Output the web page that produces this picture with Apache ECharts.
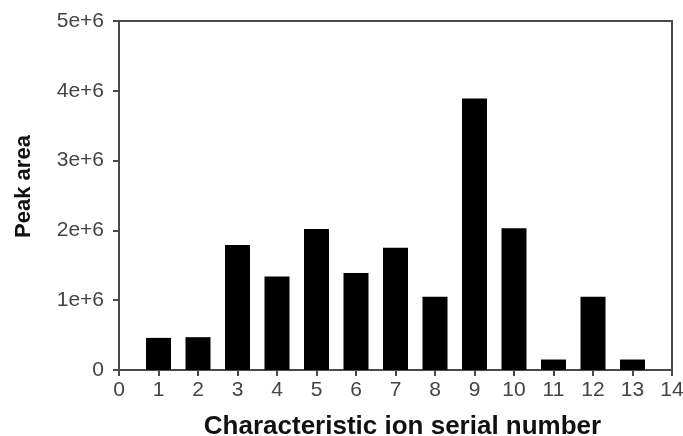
<!DOCTYPE html>
<html><head><meta charset="utf-8">
<script src="https://cdn.jsdelivr.net/npm/echarts@6/dist/echarts.min.js"></script>
<style>html,body{margin:0;padding:0;background:#fff}#c{width:683px;height:436px}</style>
</head><body><div id="c"></div>
<script>
const ionNumbers = [1,2,3,4,5,6,7,8,9,10,11,12,13];
const peakAreas = [0.46e6,0.47e6,1.79e6,1.34e6,2.02e6,1.39e6,1.75e6,1.05e6,3.89e6,2.03e6,0.15e6,1.05e6,0.15e6];
const yTickLabels = {0:'0',1e6:'1e+6',2e6:'2e+6',3e6:'3e+6',4e6:'4e+6',5e6:'5e+6'};
const xTitle = 'Characteristic ion serial number';
const yTitle = 'Peak area';

const chart = echarts.init(document.getElementById('c'));
const axisColor = '#4a4a4a';
const labelColor = '#444';
chart.setOption({
  animation:false,
  backgroundColor:'#fff',
  grid:{left:119,right:11,top:21,bottom:66,containLabel:false,outerBoundsMode:'none',
    show:true,borderColor:axisColor,borderWidth:2,backgroundColor:'transparent'},
  xAxis:{type:'value',min:0,max:14,interval:1,
    name:xTitle,nameLocation:'middle',nameGap:44,
    nameTextStyle:{fontFamily:'Liberation Sans, Arial',fontWeight:'bold',fontSize:26,color:'#111',padding:[0,0,0,14]},
    axisLine:{lineStyle:{color:axisColor,width:2}},
    axisTick:{show:true,length:6,lineStyle:{color:axisColor,width:2}},
    axisLabel:{fontFamily:'Liberation Sans, Arial',fontSize:21,color:labelColor,margin:10},
    splitLine:{show:false}},
  yAxis:{type:'value',min:0,max:5e6,interval:1e6,
    name:yTitle,nameLocation:'middle',nameGap:84,nameRotate:90,
    nameTextStyle:{fontFamily:'Liberation Sans, Arial',fontWeight:'bold',fontSize:22,color:'#111',padding:[0,0,0,18]},
    axisLine:{show:true,lineStyle:{color:axisColor,width:2}},
    axisTick:{show:true,length:6,lineStyle:{color:axisColor,width:2}},
    axisLabel:{fontFamily:'Liberation Sans, Arial',fontSize:21,color:labelColor,margin:15,
      formatter:v=>yTickLabels[v]!==undefined?yTickLabels[v]:''},
    splitLine:{show:false}},
  series:[{type:'bar',barWidth:25,
    itemStyle:{color:'#000'},
    data:ionNumbers.map((n,i)=>[n,peakAreas[i]])}]
});
</script></body></html>
